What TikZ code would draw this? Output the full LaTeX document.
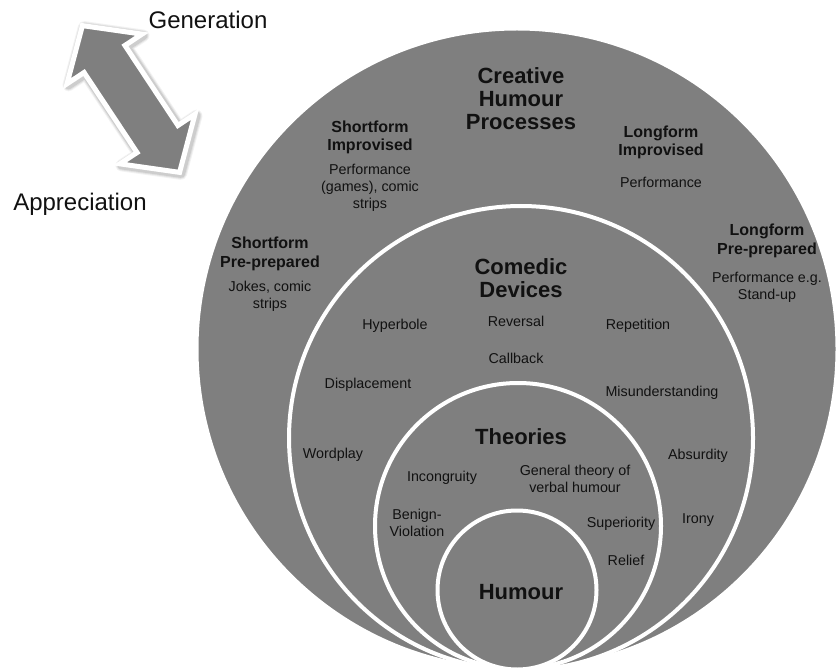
\documentclass[tikz,border=0pt]{standalone}
\usepackage{fontspec}
\setmainfont{Liberation Sans}
\definecolor{fillgray}{RGB}{127,127,127}
\definecolor{txt}{RGB}{17,17,17}
\newcommand{\arrowshape}{(88,0) -- (48,45) -- (48,24.5) -- (-48,24.5) -- (-48,45) -- (-88,0)
    -- (-48,-45) -- (-48,-24.5) -- (48,-24.5) -- (48,-45) -- cycle}
\begin{document}
\begin{tikzpicture}[x=1pt,y=-1pt,
  ring/.style={fill=fillgray,draw=white,line width=4pt},
  head/.style={font=\fontsize{22}{23}\selectfont\bfseries,align=center,text=txt,inner sep=0pt},
  sub/.style={font=\fontsize{16}{18.5}\selectfont\bfseries,align=center,text=txt,inner sep=0pt},
  item/.style={font=\fontsize{14.3}{17}\selectfont,align=center,text=txt,inner sep=0pt},
  axis/.style={font=\fontsize{24}{28}\selectfont,text=txt,inner sep=0pt}]
\useasboundingbox (0,0) rectangle (837,668);
\clip (0,0) rectangle (837,668);
% circles
\draw[ring] (517,349) circle[radius=320.5];
\draw[ring] (521,438) circle[radius=232];
\draw[ring] (518,526) circle[radius=143];
\draw[ring] (517,590) circle[radius=79.5];
% arrow with soft shadow
\foreach \w/\o in {12/0.05,10/0.07,8/0.09}{
  \begin{scope}[shift={(132.5,100.5)},rotate=-56.5]
    \path[draw=black,draw opacity=\o,line width=\w pt,line join=round] \arrowshape;
  \end{scope}
}
\begin{scope}[shift={(131,99)},rotate=-56.5]
  \path[fill=fillgray,draw=white,line width=5pt,line join=miter] \arrowshape;
\end{scope}
\node[axis] (gen) at (208,20) {Generation};
\node[axis] (app) at (80,204) {Appreciation};
% outer ring texts
\node[head] (chp) at (521,99) {Creative\\Humour\\Processes};
\node[sub] (si) at (370,137.5) {Shortform\\Improvised};
\node[item] (sit) at (370,188) {Performance\\(games), comic\\strips};
\node[sub] (li) at (661,142.5) {Longform\\Improvised};
\node[item] (lit) at (661,182) {Performance};
\node[sub] (lp) at (767,241) {Longform\\Pre-prepared};
\node[item] (lpt) at (767,287.5) {Performance e.g.\\Stand-up};
\node[sub] (sp) at (270,254) {Shortform\\Pre-prepared};
\node[item] (spt) at (270,296.5) {Jokes, comic\\strips};
% comedic devices
\node[head] (cd) at (521,278.5) {Comedic\\Devices};
\node[item] (hyp) at (395,326) {Hyperbole};
\node[item] (rev) at (516,321) {Reversal};
\node[item] (rep) at (638,326) {Repetition};
\node[item] (cal) at (516,358) {Callback};
\node[item] (dis) at (368,385) {Displacement};
\node[item] (mis) at (662,393) {Misunderstanding};
\node[item] (wor) at (333,455) {Wordplay};
\node[item] (abs) at (698,456) {Absurdity};
\node[item] (iro) at (698,520) {Irony};
% theories
\node[head] (th) at (521,437) {Theories};
\node[item] (inc) at (442,478) {Incongruity};
\node[item] (gen2) at (575,479) {General theory of\\verbal humour};
\node[item] (ben) at (417,522.5) {Benign-\\Violation};
\node[item] (sup) at (621,524) {Superiority};
\node[item] (rel) at (626,560) {Relief};
% humour
\node[head] (hum) at (521,592) {Humour};
\end{tikzpicture}
\end{document}
